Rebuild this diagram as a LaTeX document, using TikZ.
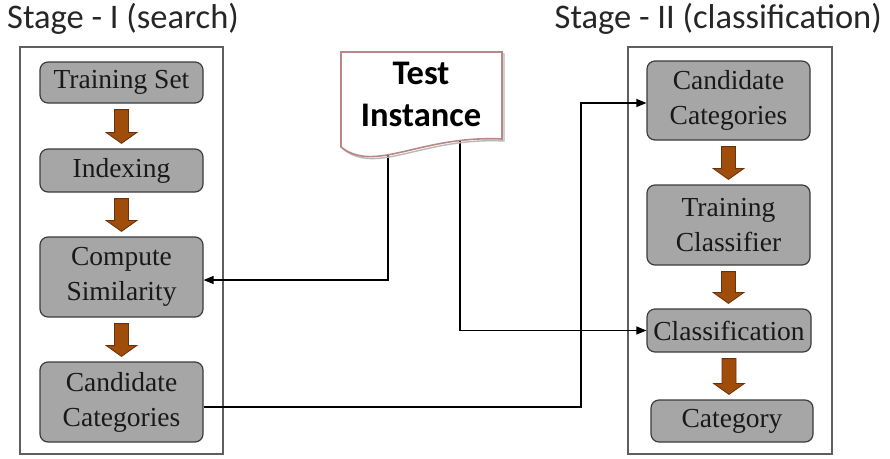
\documentclass[tikz,border=0pt]{standalone}
\usepackage{fontspec}
\setmainfont{Liberation Serif}
\newfontfamily\calibri{Carlito}
\usetikzlibrary{calc,arrows.meta}

\definecolor{boxfill}{RGB}{166,166,166}
\definecolor{boxline}{RGB}{60,60,60}
\definecolor{frameline}{RGB}{95,95,95}
\definecolor{textdark}{RGB}{25,25,25}
\definecolor{brownfill}{RGB}{160,76,10}
\definecolor{brownline}{RGB}{105,50,12}
\definecolor{docline}{RGB}{185,135,135}

% thick brown arrow from the bottom of one box to the top of the next
\newcommand\blockarrow[2]{%
  \filldraw[fill=brownfill, draw=brownline, line width=0.8pt]
    let \p1=(#1.south), \p2=(#2.north) in
    ({\x1-7pt},{\y1-6pt}) -- ({\x1+7pt},{\y1-6pt}) --
    ({\x1+7pt},{\y2+16pt}) -- ({\x1+15.5pt},{\y2+16pt}) --
    ({\x1},{\y2+5pt}) -- ({\x1-15.5pt},{\y2+16pt}) --
    ({\x1-7pt},{\y2+16pt}) -- cycle;}

\begin{document}
\begin{tikzpicture}[x=1pt,y=-1pt,
  stepbox/.style={draw=boxline, fill=boxfill, rounded corners=8pt,
    line width=1.2pt, minimum width=163pt, align=center, inner sep=0pt,
    text=textdark, font=\fontsize{27.5}{35}\selectfont},
  frame/.style={draw=frameline, line width=1.3pt},
  conn/.style={draw=black, line width=1.1pt,
    -{Triangle[length=10pt,width=8pt]}},
  stagelabel/.style={text=black!85, inner sep=0pt,
    font=\calibri\fontsize{34.5}{40}\selectfont}]
\useasboundingbox (0,0) rectangle (890,458);

% stage titles
\node[stagelabel, anchor=base west] (s1) at (7,28) {Stage - I (search)};
\node[stagelabel, anchor=base east] (s2) at (882,28) {Stage - II (classification)};

% stage frames
\draw[frame] (20,47) rectangle (223,454);
\draw[frame] (628,47) rectangle (832,454);

% stage I
\node[stepbox, minimum height=41pt] (ts)  at (121.5,82.5) {Training Set};
\node[stepbox, minimum height=43pt] (idx) at (121.5,170.5) {Indexing};
\node[stepbox, minimum height=80pt] (cs)  at (121.5,277) {Compute\\Similarity};
\node[stepbox, minimum height=80pt] (cc1) at (121.5,402) {Candidate\\Categories};

% stage II
\node[stepbox, minimum height=79pt] (cc2) at (728.5,100.5) {Candidate\\Categories};
\node[stepbox, minimum height=80pt] (tc)  at (728.5,225) {Training\\Classifier};
\node[stepbox, minimum height=43pt, minimum width=164pt] (cl) at (729,330.5) {Classification};
\node[stepbox, minimum height=42pt, minimum width=162pt] (cat) at (732,421) {Category};

\blockarrow{ts}{idx}
\blockarrow{idx}{cs}
\blockarrow{cs}{cc1}
\blockarrow{cc2}{tc}
\blockarrow{tc}{cl}
\blockarrow{cl}{cat}

% connectors
\coordinate (tA) at (388,140);
\coordinate (tB) at (460,130);
\coordinate (jog) at (581,103);
\draw[conn] (tA) |- ([yshift=-3pt]cs.east);
\draw[conn] (tB) |- (cl.west);
\draw[conn] ([yshift=-5pt]cc1.east) -| (jog) -- ([yshift=-2.5pt]cc2.west);

% test instance document
\draw[gray!55, line width=1.4pt, shift={(2,2)}]
  (341,52) -- (502,52) -- (502,139)
  .. controls (420,135) and (375,174) .. (341,147) -- cycle;
\draw[docline, fill=white, line width=1.6pt]
  (341,52) -- (502,52) -- (502,139)
  .. controls (420,135) and (375,174) .. (341,147) -- cycle;
\node[align=center, inner sep=0pt,
  font=\calibri\bfseries\fontsize{34.5}{42}\selectfont] (test) at (421,94)
  {Test\\Instance};
\end{tikzpicture}
\end{document}
